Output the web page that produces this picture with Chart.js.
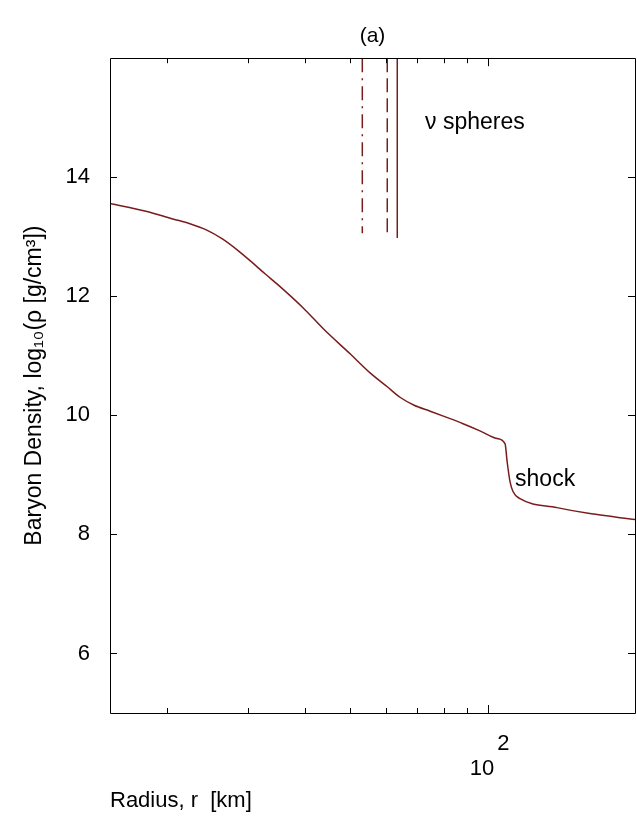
<!DOCTYPE html>
<html>
<head>
<meta charset="utf-8">
<script src="https://cdn.jsdelivr.net/npm/chart.js"></script>
<style>
  html, body { margin: 0; padding: 0; background: #fff; overflow: hidden; }
  #wrap { width: 637px; height: 818px; position: relative; }
</style>
</head>
<body>
<div id="wrap"><canvas id="myChart"></canvas></div>
<script>
// density profile
const radius  = [15.0, 17.96, 20.56, 22.4, 24.26, 26.41, 28.61, 30.38, 32.75, 34.77, 39.6, 43.8, 50.1, 55.4, 60.3, 64.4, 69.0, 74.8, 81.0, 88.2, 96.0, 104.6, 108.9, 110.0, 111.6, 113.3, 117.4, 141.3, 166.6, 209];
const density = [13.56, 13.43, 13.30, 13.22, 13.12, 12.96, 12.76, 12.59, 12.37, 12.20, 11.80, 11.45, 11.03, 10.71, 10.48, 10.30, 10.17, 10.07, 9.97, 9.86, 9.74, 9.61, 9.52, 9.23, 8.89, 8.72, 8.60, 8.45, 8.35, 8.25];

// neutrino spheres (dash-dot, dashed, solid)
const sphereRadius = [53.2, 60.3, 63.4];
const sphereBottom = [13.06, 13.01, 12.98];
const sphereDash = [[14, 6, 2, 6], [14, 6], []];

const yTicks = [6, 8, 10, 12, 14];
const xTicks = [20, 30, 40, 50, 60, 70, 80, 90, 100];

const noteText = ['ν spheres', 'shock'];
const noteX = [72.9, 114.5];
const noteY = [14.92, 8.92];

const lineColor = '#7a1c1c';

Chart.defaults.font.family = "'Liberation Sans', Arial, sans-serif";
Chart.defaults.font.size = 22;
Chart.defaults.color = '#000';

// MATLAB-style box with inward ticks, plus the text notes
const frame = {
  id: 'frame',
  afterDatasetsDraw(chart) {
    const { ctx, chartArea: a, scales: { x, y } } = chart;
    ctx.save();
    ctx.strokeStyle = '#000';
    ctx.lineWidth = 1;
    ctx.beginPath();
    ctx.rect(Math.round(a.left) + 0.5, Math.round(a.top) + 0.5, Math.round(a.right - a.left), Math.round(a.bottom - a.top));
    xTicks.forEach(v => {
      const px = Math.round(x.getPixelForValue(v)) + 0.5;
      const len = v === 100 ? 8 : 5;
      ctx.moveTo(px, a.bottom); ctx.lineTo(px, a.bottom - len);
      ctx.moveTo(px, a.top); ctx.lineTo(px, a.top + len);
    });
    yTicks.forEach(v => {
      const py = Math.round(y.getPixelForValue(v)) + 0.5;
      ctx.moveTo(a.left, py); ctx.lineTo(a.left + 7, py);
      ctx.moveTo(a.right, py); ctx.lineTo(a.right - 7, py);
    });
    ctx.stroke();

    ctx.fillStyle = '#000';
    ctx.font = "23px 'Liberation Sans', Arial, sans-serif";
    ctx.textAlign = 'left';
    ctx.textBaseline = 'middle';
    noteText.forEach((t, i) => {
      ctx.fillText(t, x.getPixelForValue(noteX[i]), y.getPixelForValue(noteY[i]));
    });
    ctx.restore();
  }
};

const datasets = [{
  data: radius.map((r, i) => ({ x: r, y: density[i] })),
  borderColor: lineColor,
  borderWidth: 1.5,
  pointRadius: 0,
  cubicInterpolationMode: 'monotone'
}];
sphereRadius.forEach((r, i) => {
  datasets.push({
    data: [{ x: r, y: 16 }, { x: r, y: sphereBottom[i] }],
    borderColor: lineColor,
    borderWidth: 1.5,
    borderDash: sphereDash[i],
    pointRadius: 0
  });
});

new Chart(document.getElementById('myChart'), {
  type: 'line',
  data: { datasets: datasets },
  options: {
    responsive: true,
    maintainAspectRatio: false,
    animation: false,
    layout: { padding: { right: 2 } },
    plugins: {
      legend: { display: false },
      tooltip: { enabled: false },
      title: {
        display: true,
        text: '(a)',
        fullSize: false,
        font: { size: 21, weight: 'normal' },
        padding: { top: 24, bottom: 9 }
      }
    },
    scales: {
      x: {
        type: 'logarithmic',
        min: 15,
        max: 209,
        grid: { display: false },
        border: { display: false },
        afterBuildTicks: s => { s.ticks = xTicks.map(v => ({ value: v })); },
        afterFit: s => { s.height = 105; },
        ticks: {
          autoSkip: false,
          maxRotation: 0,
          padding: 10,
          font: { size: 22, lineHeight: 1.15 },
          callback: v => v === 100 ? ['     2', '10  '] : ''
        },
        title: {
          display: true,
          text: 'Radius, r  [km]',
          align: 'start',
          font: { size: 22 },
          padding: { top: 0, bottom: 4 }
        }
      },
      y: {
        min: 5,
        max: 16,
        grid: { display: false },
        border: { display: false },
        afterBuildTicks: s => { s.ticks = yTicks.map(v => ({ value: v })); },
        afterFit: s => { s.width = 110; },
        ticks: { padding: 12 },
        title: {
          display: true,
          text: 'Baryon Density, log₁₀(ρ [g/cm³])',
          font: { size: 23 },
          padding: { top: 21, bottom: 0 }
        }
      }
    }
  },
  plugins: [frame]
});
</script>
</body>
</html>
